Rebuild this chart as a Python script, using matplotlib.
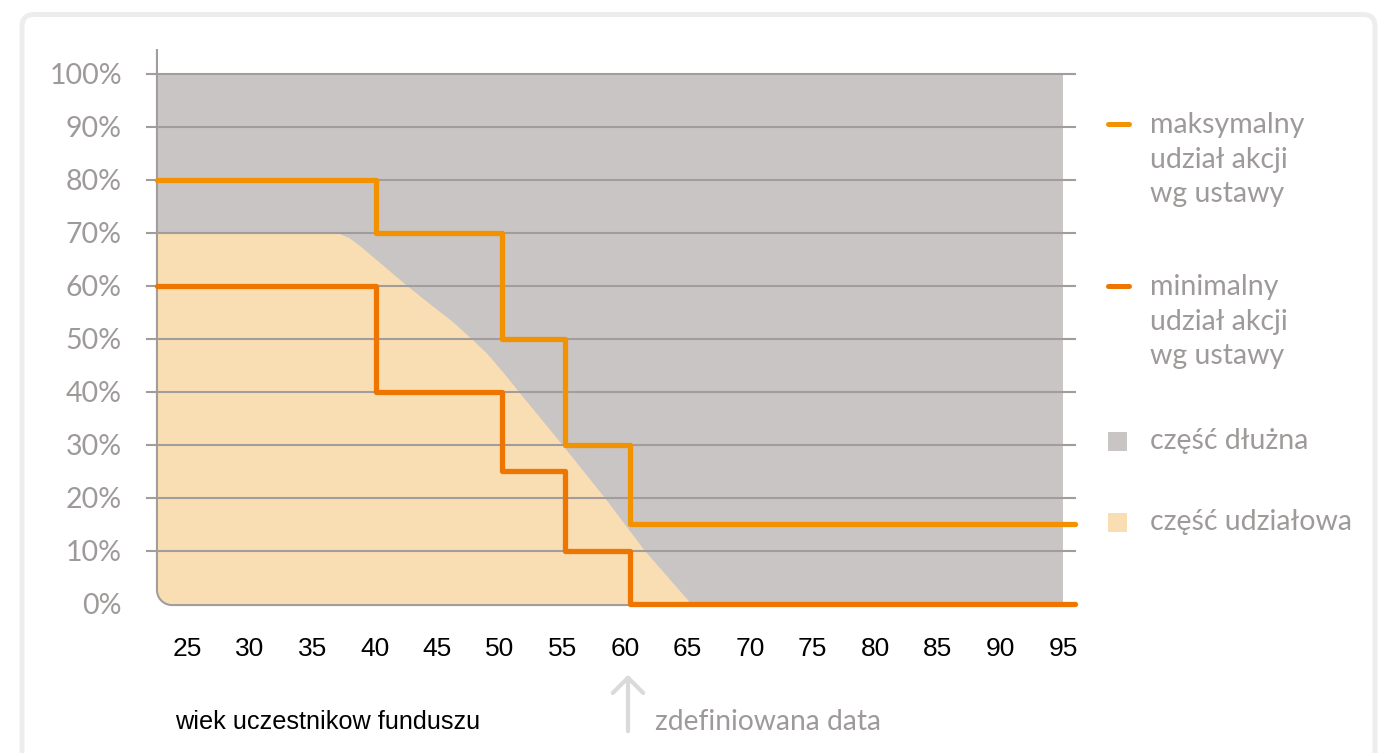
import numpy as np
import matplotlib.pyplot as plt
from matplotlib.patches import FancyBboxPatch, Rectangle

# data
age_ticks = list(range(25, 100, 5))
pct_ticks = list(range(0, 101, 10))
pct_labels = [f"{p}%" for p in pct_ticks]

step_edges = [22.6, 40.1, 50.2, 55.2, 60.4, 96.0]
max_share = [80, 70, 50, 30, 15]   # maksymalny udział akcji
min_share = [60, 40, 25, 10, 0]    # minimalny udział akcji

# glide path (część udziałowa)
glide_age = [22.6, 37.0, 38.0, 39.0, 40.6, 42.6, 44.4, 46.2, 47.75, 49.0, 50.3, 51.6, 55.0, 58.4, 61.6, 65.3]
glide_pct = [70, 70, 69.0, 67.2, 64.0, 60, 56.6, 53.3, 50, 47.2, 43.6, 39.8, 30, 20, 10, 0]

legend_line_labels = ["maksymalny\nudział akcji\nwg ustawy", "minimalny\nudział akcji\nwg ustawy"]
legend_box_labels = ["część dłużna", "część udziałowa"]
x_title = "wiek uczestnikow funduszu"
marker_text = "zdefiniowana data"

c_debt = "#C9C5C4"
c_equity = "#FADEB3"
c_grid = "#A19D9C"
c_max = "#F39200"
c_min = "#EE7600"
c_text = "#9E9A99"

W, H = 1385, 753
fig = plt.figure(figsize=(W / 100, H / 100), dpi=100)

# background axes in pixel units (frame, legend, notes)
bg = fig.add_axes([0, 0, 1, 1])
bg.set_xlim(0, W)
bg.set_ylim(H, 0)
bg.axis("off")
frame = FancyBboxPatch((22, 14.5), 1353, 800, boxstyle="round,pad=0,rounding_size=12",
                       fc="white", ec="#EDEDED", lw=3.6)
bg.add_patch(frame)

# main chart axes
left_px, right_px, top_px, bot_px = 140, 1090, 40, 620
ax = fig.add_axes([left_px / W, (H - bot_px) / H, (right_px - left_px) / W, (bot_px - top_px) / H])
ax.set_xlim(21.244, 97.16)
ax.set_ylim(-3.02, 106.4)
ax.patch.set_alpha(0)
for s in ax.spines.values():
    s.set_visible(False)

x0, x1, y0, y1 = 22.6, 95.0, -0.2, 100
rx, ry = 1.2, 2.85
t = np.linspace(np.pi, 1.5 * np.pi, 20)
arc_x = x0 + rx + rx * np.cos(t)
arc_y = y0 + ry + ry * np.sin(t)
bx = np.concatenate([[x0], arc_x, [x1, x1]])
by = np.concatenate([[y1], arc_y, [y0, y1]])
debt = ax.fill(bx, by, color=c_debt, lw=0, zorder=1)[0]

eq_x = glide_age + [glide_age[-1], glide_age[0]]
eq_y = glide_pct + [-5, -5]
eq = ax.fill(eq_x, eq_y, color=c_equity, lw=0, zorder=2)[0]
eq.set_clip_path(debt)

for p in pct_ticks[1:]:
    ax.plot([21.8, 96.0], [p, p], color=c_grid, lw=1.5, zorder=3)

# axis border with rounded corner
ax.plot(np.concatenate([[x0, x0], arc_x, [x1]]),
        np.concatenate([[104.5, y0 + ry], arc_y, [y0]]),
        color=c_grid, lw=1.5, zorder=3)

ax.plot(step_edges, max_share + [max_share[-1]], drawstyle="steps-post",
        color=c_max, lw=3.8, solid_capstyle="round", zorder=5)
ax.plot(step_edges, min_share + [min_share[-1]], drawstyle="steps-post",
        color=c_min, lw=3.8, solid_capstyle="round", zorder=4)

ax.set_yticks(pct_ticks)
ax.set_yticklabels(pct_labels, fontsize=20.5, color=c_text, family="Lato")
ax.set_xticks(age_ticks)
ax.set_xticklabels([str(a) for a in age_ticks], fontsize=19, color="black",
                   family=["Liberation Sans Narrow", "Liberation Sans"])
ax.tick_params(axis="y", length=0, pad=13)
ax.tick_params(axis="x", length=0, pad=12)
ax.get_yticklabels()[0].set_y(1)

# legend
lx, tx = 1108, 1150
for i, (lab, col) in enumerate(zip(legend_line_labels, [c_max, c_min])):
    ytop = [125, 287][i]
    bg.plot([lx, lx + 21], [ytop - 1, ytop - 1], color=col, lw=3.6, solid_capstyle="round")
    for j, line in enumerate(lab.split("\n")):
        bg.text(tx, ytop + j * 34.5, line, fontsize=20.5, color=c_text, family="Lato",
                va="center", ha="left")
for i, (lab, col) in enumerate(zip(legend_box_labels, [c_debt, c_equity])):
    yc = [441, 522][i]
    bg.add_patch(Rectangle((lx, yc - 9.5), 19, 19, color=col, lw=0))
    bg.text(tx, yc, lab, fontsize=20.5, color=c_text, family="Lato", va="center", ha="left")

bg.text(175, 722, x_title, fontsize=18.2, color="black",
        family=["Liberation Sans Narrow", "Liberation Sans"], va="center", ha="left")
bg.annotate("", xy=(628, 672), xytext=(628, 734),
            arrowprops=dict(arrowstyle="->,head_length=0.55,head_width=0.55", mutation_scale=20,
                            color="#DADADA", lw=3))
bg.text(655, 722, marker_text, fontsize=20.3, color=c_text, family="Lato", va="center", ha="left")

fig.savefig("out.png", dpi=100)
